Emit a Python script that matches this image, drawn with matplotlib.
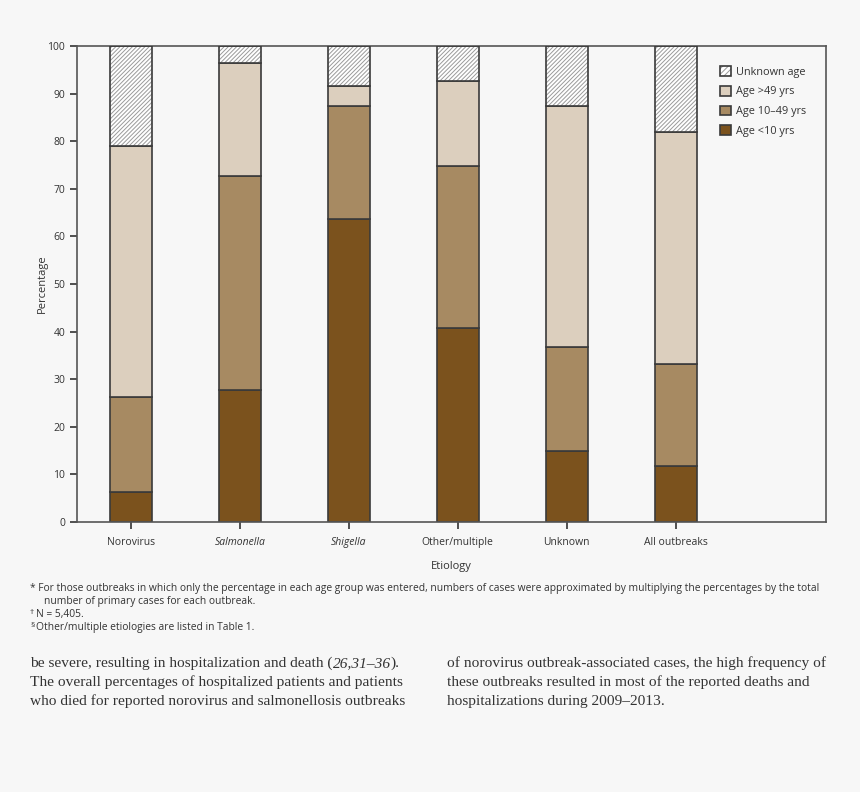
import matplotlib.pyplot as plt
from matplotlib.patches import Patch
import numpy as np

etiology = ["Norovirus", "Salmonella", "Shigella", "Other/multiple", "Unknown", "All outbreaks"]
age_lt10 = [6.3, 27.7, 63.7, 40.8, 14.9, 11.8]
age_10_49 = [20.0, 45.0, 23.7, 34.0, 21.9, 21.4]
age_gt49 = [52.7, 23.7, 4.2, 17.8, 50.6, 48.8]
unknown_age = [21.0, 3.6, 8.4, 7.4, 12.6, 18.0]

bg = "#f7f7f7"
edge = "#3a3a3a"
c_lt10 = "#7b521d"
c_1049 = "#a78a62"
c_gt49 = "#dccfbe"
hatch_c = "#9a9a9a"

plt.rcParams['font.family'] = ['Open Sans', 'DejaVu Sans']
plt.rcParams['hatch.linewidth'] = 0.7

fig = plt.figure(figsize=(8.6, 7.92), dpi=100, facecolor=bg)
ax = fig.add_axes([0.0895, 0.341, 0.871, 0.601])
ax.set_facecolor(bg)

x = np.arange(len(etiology))
w = 0.385
b1 = np.array(age_lt10)
b2 = b1 + np.array(age_10_49)
b3 = b2 + np.array(age_gt49)

ax.bar(x, age_lt10, w, color=c_lt10, edgecolor=edge, lw=1.2, zorder=2)
ax.bar(x, age_10_49, w, bottom=b1, color=c_1049, edgecolor=edge, lw=1.2, zorder=2)
ax.bar(x, age_gt49, w, bottom=b2, color=c_gt49, edgecolor=edge, lw=1.2, zorder=2)
ax.bar(x, unknown_age, w, bottom=b3, color="white", edgecolor=hatch_c, lw=0, hatch="////////", zorder=2)
ax.bar(x, unknown_age, w, bottom=b3, fill=False, edgecolor=edge, lw=1.2, zorder=3)

ax.set_xlim(-0.495, 6.38)
ax.set_ylim(0, 100)
ax.set_yticks(range(0, 101, 10))
ax.set_xticks(x)
ax.set_xticklabels(etiology, fontsize=7.5, color="#333333")
for lbl in ax.get_xticklabels():
    if lbl.get_text() in ("Salmonella", "Shigella"):
        lbl.set_style("italic")
ax.tick_params(axis="y", labelsize=7.5, colors="#333333", length=5, width=1.2, direction="out")
ax.tick_params(axis="x", length=5, width=1.2, direction="out", color="#333333", pad=6)
for s in ax.spines.values():
    s.set_color("#555555")
    s.set_linewidth(1.2)

ax.set_ylabel("Percentage", fontsize=8, color="#333333", labelpad=0)
ax.set_xlabel("Etiology", fontsize=8, color="#333333", labelpad=9)

hatch_box = (Patch(facecolor="white", edgecolor=hatch_c, lw=0, hatch="//////"),
             Patch(fill=False, edgecolor=edge, lw=1.2))
handles = [hatch_box,
           Patch(facecolor=c_gt49, edgecolor=edge, lw=1.2),
           Patch(facecolor=c_1049, edgecolor=edge, lw=1.2),
           Patch(facecolor=c_lt10, edgecolor=edge, lw=1.2)]
labels = ["Unknown age", "Age >49 yrs", "Age 10\u201349 yrs", "Age <10 yrs"]
ax.legend(handles, labels, loc="upper left", bbox_to_anchor=(0.845, 0.978), frameon=False,
          fontsize=7.8, handlelength=1.0, handleheight=1.0, handletextpad=0.5,
          labelspacing=0.75, labelcolor="#333333")

# footnotes
fn = dict(fontsize=7.4, color="#333333", va="baseline")
sup = dict(fontsize=6, color="#333333", va="baseline")
fig.text(30 / 860, 1 - 591 / 792, "* For those outbreaks in which only the percentage in each age group was entered, numbers of cases were approximated by multiplying the percentages by the total", **fn)
fig.text(44 / 860, 1 - 604 / 792, "number of primary cases for each outbreak.", **fn)
fig.text(30 / 860, 1 - 614 / 792, "\u2020", **sup)
fig.text(36 / 860, 1 - 617 / 792, "N = 5,405.", **fn)
fig.text(30 / 860, 1 - 627 / 792, "\u00a7", **sup)
fig.text(36 / 860, 1 - 630 / 792, "Other/multiple etiologies are listed in Table 1.", **fn)

# body text
body = dict(fontsize=11.1, color="#333333", va="baseline", family="Liberation Serif")
t1 = fig.text(30 / 860, 1 - 667 / 792, "be severe, resulting in hospitalization and death (", **body)
t2 = fig.text(0, 0, "26,31\u201336", style="italic", **body)
t3 = fig.text(0, 0, ").", **body)
fig.text(30 / 860, 1 - 686 / 792, "The overall percentages of hospitalized patients and patients", **body)
fig.text(30 / 860, 1 - 705 / 792, "who died for reported norovirus and salmonellosis outbreaks", **body)
fig.text(447 / 860, 1 - 667 / 792, "of norovirus outbreak-associated cases, the high frequency of", **body)
fig.text(447 / 860, 1 - 686 / 792, "these outbreaks resulted in most of the reported deaths and", **body)
fig.text(447 / 860, 1 - 705 / 792, "hospitalizations during 2009\u20132013.", **body)

fig.canvas.draw()
r = fig.canvas.get_renderer()
inv = fig.transFigure.inverted()
x1 = inv.transform((t1.get_window_extent(r).x1, 0))[0]
t2.set_position((x1, 1 - 667 / 792))
fig.canvas.draw()
x2 = inv.transform((t2.get_window_extent(r).x1, 0))[0]
t3.set_position((x2, 1 - 667 / 792))

fig.savefig("out.png", dpi=100, facecolor=bg)
